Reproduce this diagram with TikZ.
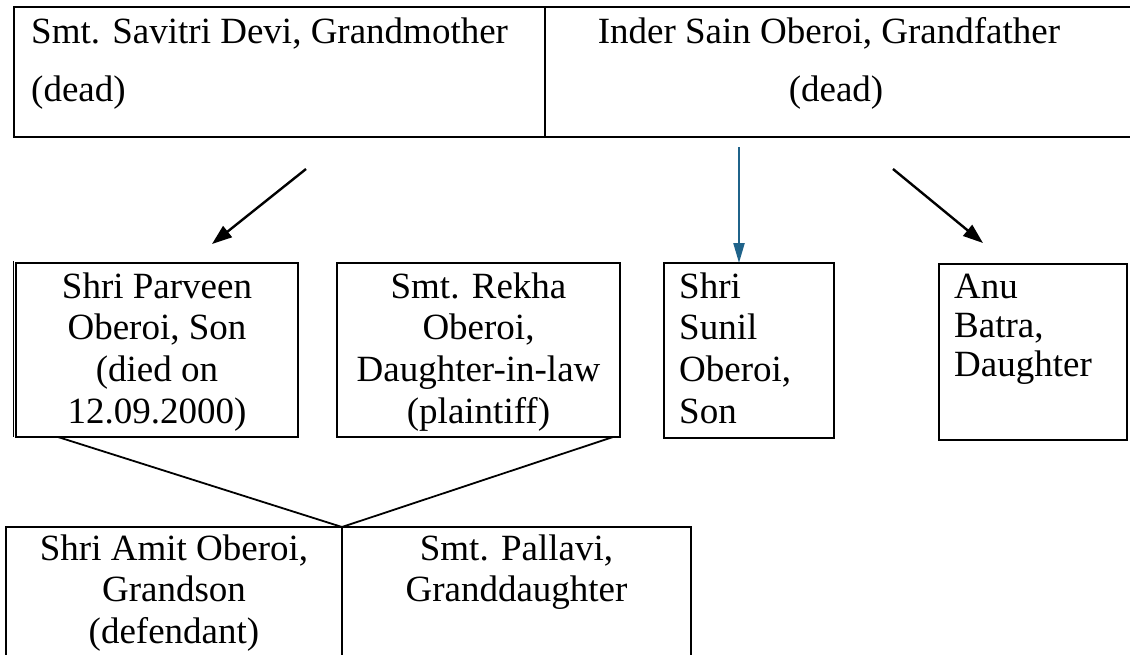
\documentclass[tikz,border=0pt]{standalone}
\usepackage{fontspec}
\setmainfont{Liberation Serif}
\usetikzlibrary{arrows.meta}
\definecolor{arrblue}{RGB}{31,99,138}
\begin{document}
\begin{tikzpicture}[x=1pt,y=-1pt,
  cell/.style={draw, line width=2pt, inner sep=0pt, outer sep=0pt, anchor=north west},
  topcell/.style={cell, line width=2.6pt},
  txt/.style={font=\fontsize{37}{41.7}\selectfont, inner sep=0pt, anchor=base},
  txtl/.style={txt, anchor=base west},
  arr/.style={line width=2.4pt, -{Triangle[length=20pt,width=14pt]}},
  arrb/.style={arrblue, line width=2.2pt, -{Triangle[length=20pt,width=11pt]}},
  vline/.style={line width=1.8pt}]
\useasboundingbox (0,0) rectangle (1130,654);
\fill[white] (0,0) rectangle (1130,654);

% top row
\node[topcell, minimum width=531pt, minimum height=130pt] (savitri) at (14,7) {};
\node[topcell, minimum width=600pt, minimum height=130pt] (inder) at (545,7) {};
\node[txtl] (tsav1) at (31,43) {Smt. Savitri Devi, Grandmother};
\node[txtl] (tsav2) at (31,101) {(dead)};
\node[txt] (tind1) at (829,43) {Inder Sain Oberoi, Grandfather};
\node[txt] (tind2) at (836,101) {(dead)};

% second row
\node[cell, minimum width=282pt, minimum height=174pt] (parveen) at (16,263) {};
\node[cell, minimum width=283pt, minimum height=174pt] (rekha) at (337,263) {};
\node[cell, minimum width=170pt, minimum height=175pt] (sunil) at (664,263) {};
\node[cell, minimum width=188pt, minimum height=176pt] (anu) at (939,264) {};
\draw[line width=1pt] (13,261) -- (13,437);

\node[txt] (tpar) at (157,298) {\begin{tabular}[t]{@{}c@{}}Shri Parveen\\Oberoi, Son\\(died on\\12.09.2000)\end{tabular}};
\node[txt] (trek) at (478.5,298) {\begin{tabular}[t]{@{}c@{}}Smt. Rekha\\Oberoi,\\Daughter-in-law\\(plaintiff)\end{tabular}};
\node[txtl] (tsun) at (679,298) {\begin{tabular}[t]{@{}l@{}}Shri\\Sunil\\Oberoi,\\Son\end{tabular}};
\node[txtl, font=\fontsize{37}{39}\selectfont] (tanu) at (954,298) {\begin{tabular}[t]{@{}l@{}}Anu\\Batra,\\Daughter\end{tabular}};

% third row
\node[cell, minimum width=336pt, minimum height=200pt] (amit) at (6,527) {};
\node[cell, minimum width=349pt, minimum height=200pt] (pallavi) at (342,527) {};
\node[txt] (tami) at (174,560) {\begin{tabular}[t]{@{}c@{}}Shri Amit Oberoi,\\Grandson\\(defendant)\end{tabular}};
\node[txt] (tpal) at (516.5,560) {\begin{tabular}[t]{@{}c@{}}Smt. Pallavi,\\Granddaughter\end{tabular}};

% arrows
\coordinate (l1) at (306,169);
\coordinate (l2) at (212,244);
\coordinate (b1) at (739,147);
\coordinate (r1) at (893,169);
\coordinate (r2) at (983,243);
\draw[arr] (l1) -- (l2);
\draw[arrb] (b1) -- (b1 |- sunil.north);
\draw[arr] (r1) -- (r2);

% children lines
\coordinate (v1) at (58,437);
\coordinate (v2) at (613,437);
\draw[vline] (v1) -- (amit.north east) -- (v2);
\end{tikzpicture}
\end{document}
